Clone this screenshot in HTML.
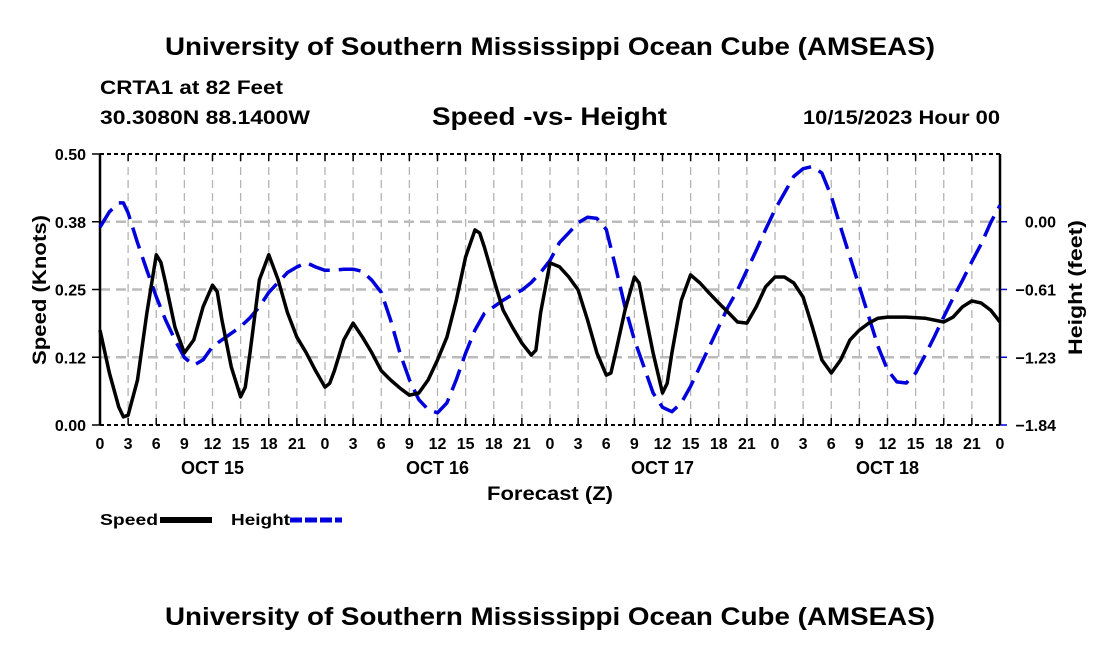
<!DOCTYPE html>
<html><head><meta charset="utf-8"><style>
body{margin:0;background:#fff;}
svg{display:block;font-family:"Liberation Sans",sans-serif;font-weight:bold;}
</style></head><body>
<svg id="c" width="1100" height="650" viewBox="0 0 1100 650">
<text x="165" y="55" font-size="25" textLength="770" lengthAdjust="spacingAndGlyphs">University of Southern Mississippi Ocean Cube (AMSEAS)</text>
<text x="100" y="94" font-size="19" textLength="183" lengthAdjust="spacingAndGlyphs">CRTA1 at 82 Feet</text>
<text x="100" y="124" font-size="19" textLength="210" lengthAdjust="spacingAndGlyphs">30.3080N  88.1400W</text>
<text x="432" y="125" font-size="25" textLength="235" lengthAdjust="spacingAndGlyphs">Speed -vs- Height</text>
<text x="803" y="124" font-size="19" textLength="197" lengthAdjust="spacingAndGlyphs">10/15/2023 Hour 00</text>
<g id="grid"></g>
<g id="axes"></g>
<g id="series"></g>
<text x="487" y="500" font-size="19" textLength="126" lengthAdjust="spacingAndGlyphs">Forecast (Z)</text>
<text transform="translate(46,365) rotate(-90)" font-size="19" textLength="150" lengthAdjust="spacingAndGlyphs">Speed (Knots)</text>
<text transform="translate(1082,355) rotate(-90)" font-size="19" textLength="135" lengthAdjust="spacingAndGlyphs">Height (feet)</text>
<g>
<text x="100" y="525" font-size="16" textLength="58" lengthAdjust="spacingAndGlyphs">Speed</text>
<rect x="160" y="517" width="52" height="6" fill="#000"/>
<text x="231" y="525" font-size="16" textLength="59" lengthAdjust="spacingAndGlyphs">Height</text>
<line x1="290" y1="520" x2="342" y2="520" stroke="#0000dd" stroke-width="5" stroke-dasharray="12,3"/>
</g>
<text x="165" y="625" font-size="25" textLength="770" lengthAdjust="spacingAndGlyphs">University of Southern Mississippi Ocean Cube (AMSEAS)</text>
</svg>
<script>
const speedHours=[0,1,2,2.5,3,4,5,6,6.5,7,8,9,10,11,12,12.5,13,14,15,15.5,16,17,18,19,20,21,22,23,24,24.5,25,26,27,28,29,30,31,32,33,34,35,36,37,38,39,40,40.5,41,42,43,44,45,46,46.5,47,48,49,50,51,52,53,54,54.5,55,56,57,57.5,58,59,60,60.5,61,62,63,64,65,66,67,68,69,70,71,72,73,74,75,76,77,78,79,80,81,82,83,84,86,88,90,91,92,93,94,95,96];
const speedValues=[0.175,0.096,0.033,0.015,0.018,0.083,0.207,0.314,0.30,0.262,0.18,0.133,0.157,0.218,0.258,0.246,0.194,0.107,0.052,0.07,0.133,0.268,0.314,0.268,0.207,0.162,0.133,0.10,0.07,0.077,0.10,0.157,0.188,0.162,0.133,0.10,0.083,0.068,0.055,0.059,0.083,0.12,0.162,0.23,0.31,0.36,0.354,0.328,0.268,0.212,0.18,0.151,0.129,0.138,0.207,0.299,0.292,0.273,0.249,0.194,0.133,0.092,0.096,0.133,0.212,0.273,0.262,0.218,0.133,0.059,0.077,0.133,0.23,0.277,0.262,0.243,0.225,0.208,0.19,0.188,0.218,0.255,0.273,0.273,0.262,0.236,0.18,0.12,0.096,0.12,0.157,0.175,0.188,0.197,0.199,0.199,0.197,0.19,0.199,0.218,0.229,0.225,0.212,0.19];
const heightHours=[0,1,2,2.5,3,4,5,6,7,8,9,10,11,12,13,14,15,16,17,18,19,20,21,22,23,24,25,26,27,28,29,30,31,32,33,34,35,36,37,38,39,40,41,42,43,44,45,46,47,48,49,50,51,52,53,54,55,56,57,58,59,60,61,62,63,64,65,66,67,68,69,70,71,72,73,74,75,76,77,78,79,80,81,82,83,84,85,86,87,88,89,90,91,92,93,94,95,96];
const heightValues=[-0.05,0.09,0.17,0.17,0.08,-0.19,-0.44,-0.68,-0.89,-1.07,-1.23,-1.30,-1.25,-1.13,-1.07,-1.01,-0.95,-0.87,-0.77,-0.64,-0.55,-0.46,-0.41,-0.37,-0.41,-0.44,-0.44,-0.43,-0.43,-0.45,-0.53,-0.64,-0.89,-1.19,-1.43,-1.61,-1.70,-1.73,-1.64,-1.43,-1.19,-0.98,-0.83,-0.77,-0.71,-0.66,-0.62,-0.55,-0.46,-0.35,-0.19,-0.10,-0.01,0.04,0.03,-0.07,-0.41,-0.77,-1.07,-1.31,-1.55,-1.68,-1.72,-1.64,-1.49,-1.31,-1.13,-0.95,-0.77,-0.62,-0.44,-0.26,-0.07,0.11,0.26,0.41,0.48,0.50,0.44,0.23,-0.05,-0.32,-0.59,-0.86,-1.13,-1.34,-1.45,-1.46,-1.37,-1.21,-1.04,-0.86,-0.69,-0.53,-0.36,-0.20,-0.01,0.15];
const xTickLabels=["0","3","6","9","12","15","18","21","0","3","6","9","12","15","18","21","0","3","6","9","12","15","18","21","0","3","6","9","12","15","18","21","0"];
const dayLabels=["OCT 15","OCT 16","OCT 17","OCT 18"];
const dayHours=[12,36,60,84];
const leftTicks=[0,0.125,0.25,0.375,0.5];
const leftTickLabels=["0.00","0.12","0.25","0.38","0.50"];
const rightTicks=[-1.84,-1.227,-0.613,0];
const rightTickLabels=["\u22121.84","\u22121.23","\u22120.61","0.00"];

const X0=100,X1=1000,Y0=425,Y1=154,HMAX=96,RMIN=-1.84,RMAX=0.613;
const xs=h=>X0+(X1-X0)*h/HMAX;
const ys=v=>Y0-(Y0-Y1)*v/0.5;
const yr=v=>Y0-(Y0-Y1)*(v-RMIN)/(RMAX-RMIN);
const NS="http://www.w3.org/2000/svg";
function mk(tag,attrs,parent,text){const e=document.createElementNS(NS,tag);for(const k in attrs)e.setAttribute(k,attrs[k]);if(text!==undefined)e.textContent=text;parent.appendChild(e);return e;}
const grid=document.getElementById('grid'),axes=document.getElementById('axes'),series=document.getElementById('series');
xTickLabels.forEach((lab,i)=>{
  const x=xs(i*3);
  if(i>0&&i<xTickLabels.length-1){
    const g=mk('line',{x1:x,y1:Y1,x2:x,y2:Y0,stroke:'#b4b4b4','stroke-width':1.3,'stroke-dasharray':'8,5'},grid);
    
    
  }
  mk('line',{x1:x,y1:Y0,x2:x,y2:Y0-7,stroke:'#000','stroke-width':1.5},axes);
  mk('line',{x1:x,y1:Y1,x2:x,y2:Y1+7,stroke:'#000','stroke-width':1.5},axes);
  const t=mk('text',{x:x,y:449,'text-anchor':'middle','font-size':16},axes,lab);
  
  
});
dayLabels.forEach((lab,i)=>{
  const t=mk('text',{x:xs(dayHours[i]),y:474,'text-anchor':'middle','font-size':18},axes,lab);
  
  
});
leftTicks.forEach((v,i)=>{
  const y=ys(v);
  if(i>0&&i<leftTicks.length-1){
    const g=mk('line',{x1:X0,y1:y,x2:X1,y2:y,stroke:'#bbbbbb','stroke-width':2.5,'stroke-dasharray':'10,6'},grid);
    
    
  }
  mk('line',{x1:X0-8,y1:y,x2:X0,y2:y,stroke:'#000','stroke-width':1.5},axes);
  const t=mk('text',{x:86,y:y+6,'text-anchor':'end','font-size':16},axes,leftTickLabels[i]);
  
  
});
rightTicks.forEach((v,i)=>{
  const y=yr(v);
  mk('line',{x1:X1,y1:y,x2:X1+7,y2:y,stroke:'#0000dd','stroke-width':1.5},axes);
  const t=mk('text',{x:1056,y:y+6,'text-anchor':'end','font-size':16},axes,rightTickLabels[i]);
  
  
});
mk('line',{x1:X0,y1:Y1,x2:X1,y2:Y1,stroke:'#000','stroke-width':2,'stroke-dasharray':'4,3'},axes);
mk('line',{x1:X0,y1:Y0,x2:X1,y2:Y0,stroke:'#000','stroke-width':2,'stroke-dasharray':'4,3'},axes);
mk('line',{x1:X0,y1:Y1,x2:X0,y2:Y0,stroke:'#000','stroke-width':2.5},axes);
mk('line',{x1:X1,y1:Y1,x2:X1,y2:Y0,stroke:'#000','stroke-width':2.5},axes);
function pathD(hs,vs,f){return hs.map((h,i)=>(i?'L':'M')+xs(h).toFixed(1)+','+f(vs[i]).toFixed(1)).join(' ');}
const hp=mk('path',{d:pathD(heightHours,heightValues,yr),fill:'none',stroke:'#0000dd','stroke-width':3.5,'stroke-dasharray':'22,9','stroke-linejoin':'round'},series);


const sp=mk('path',{d:pathD(speedHours,speedValues,ys),fill:'none',stroke:'#000','stroke-width':3.5,'stroke-linejoin':'round'},series);


</script>
</body></html>
